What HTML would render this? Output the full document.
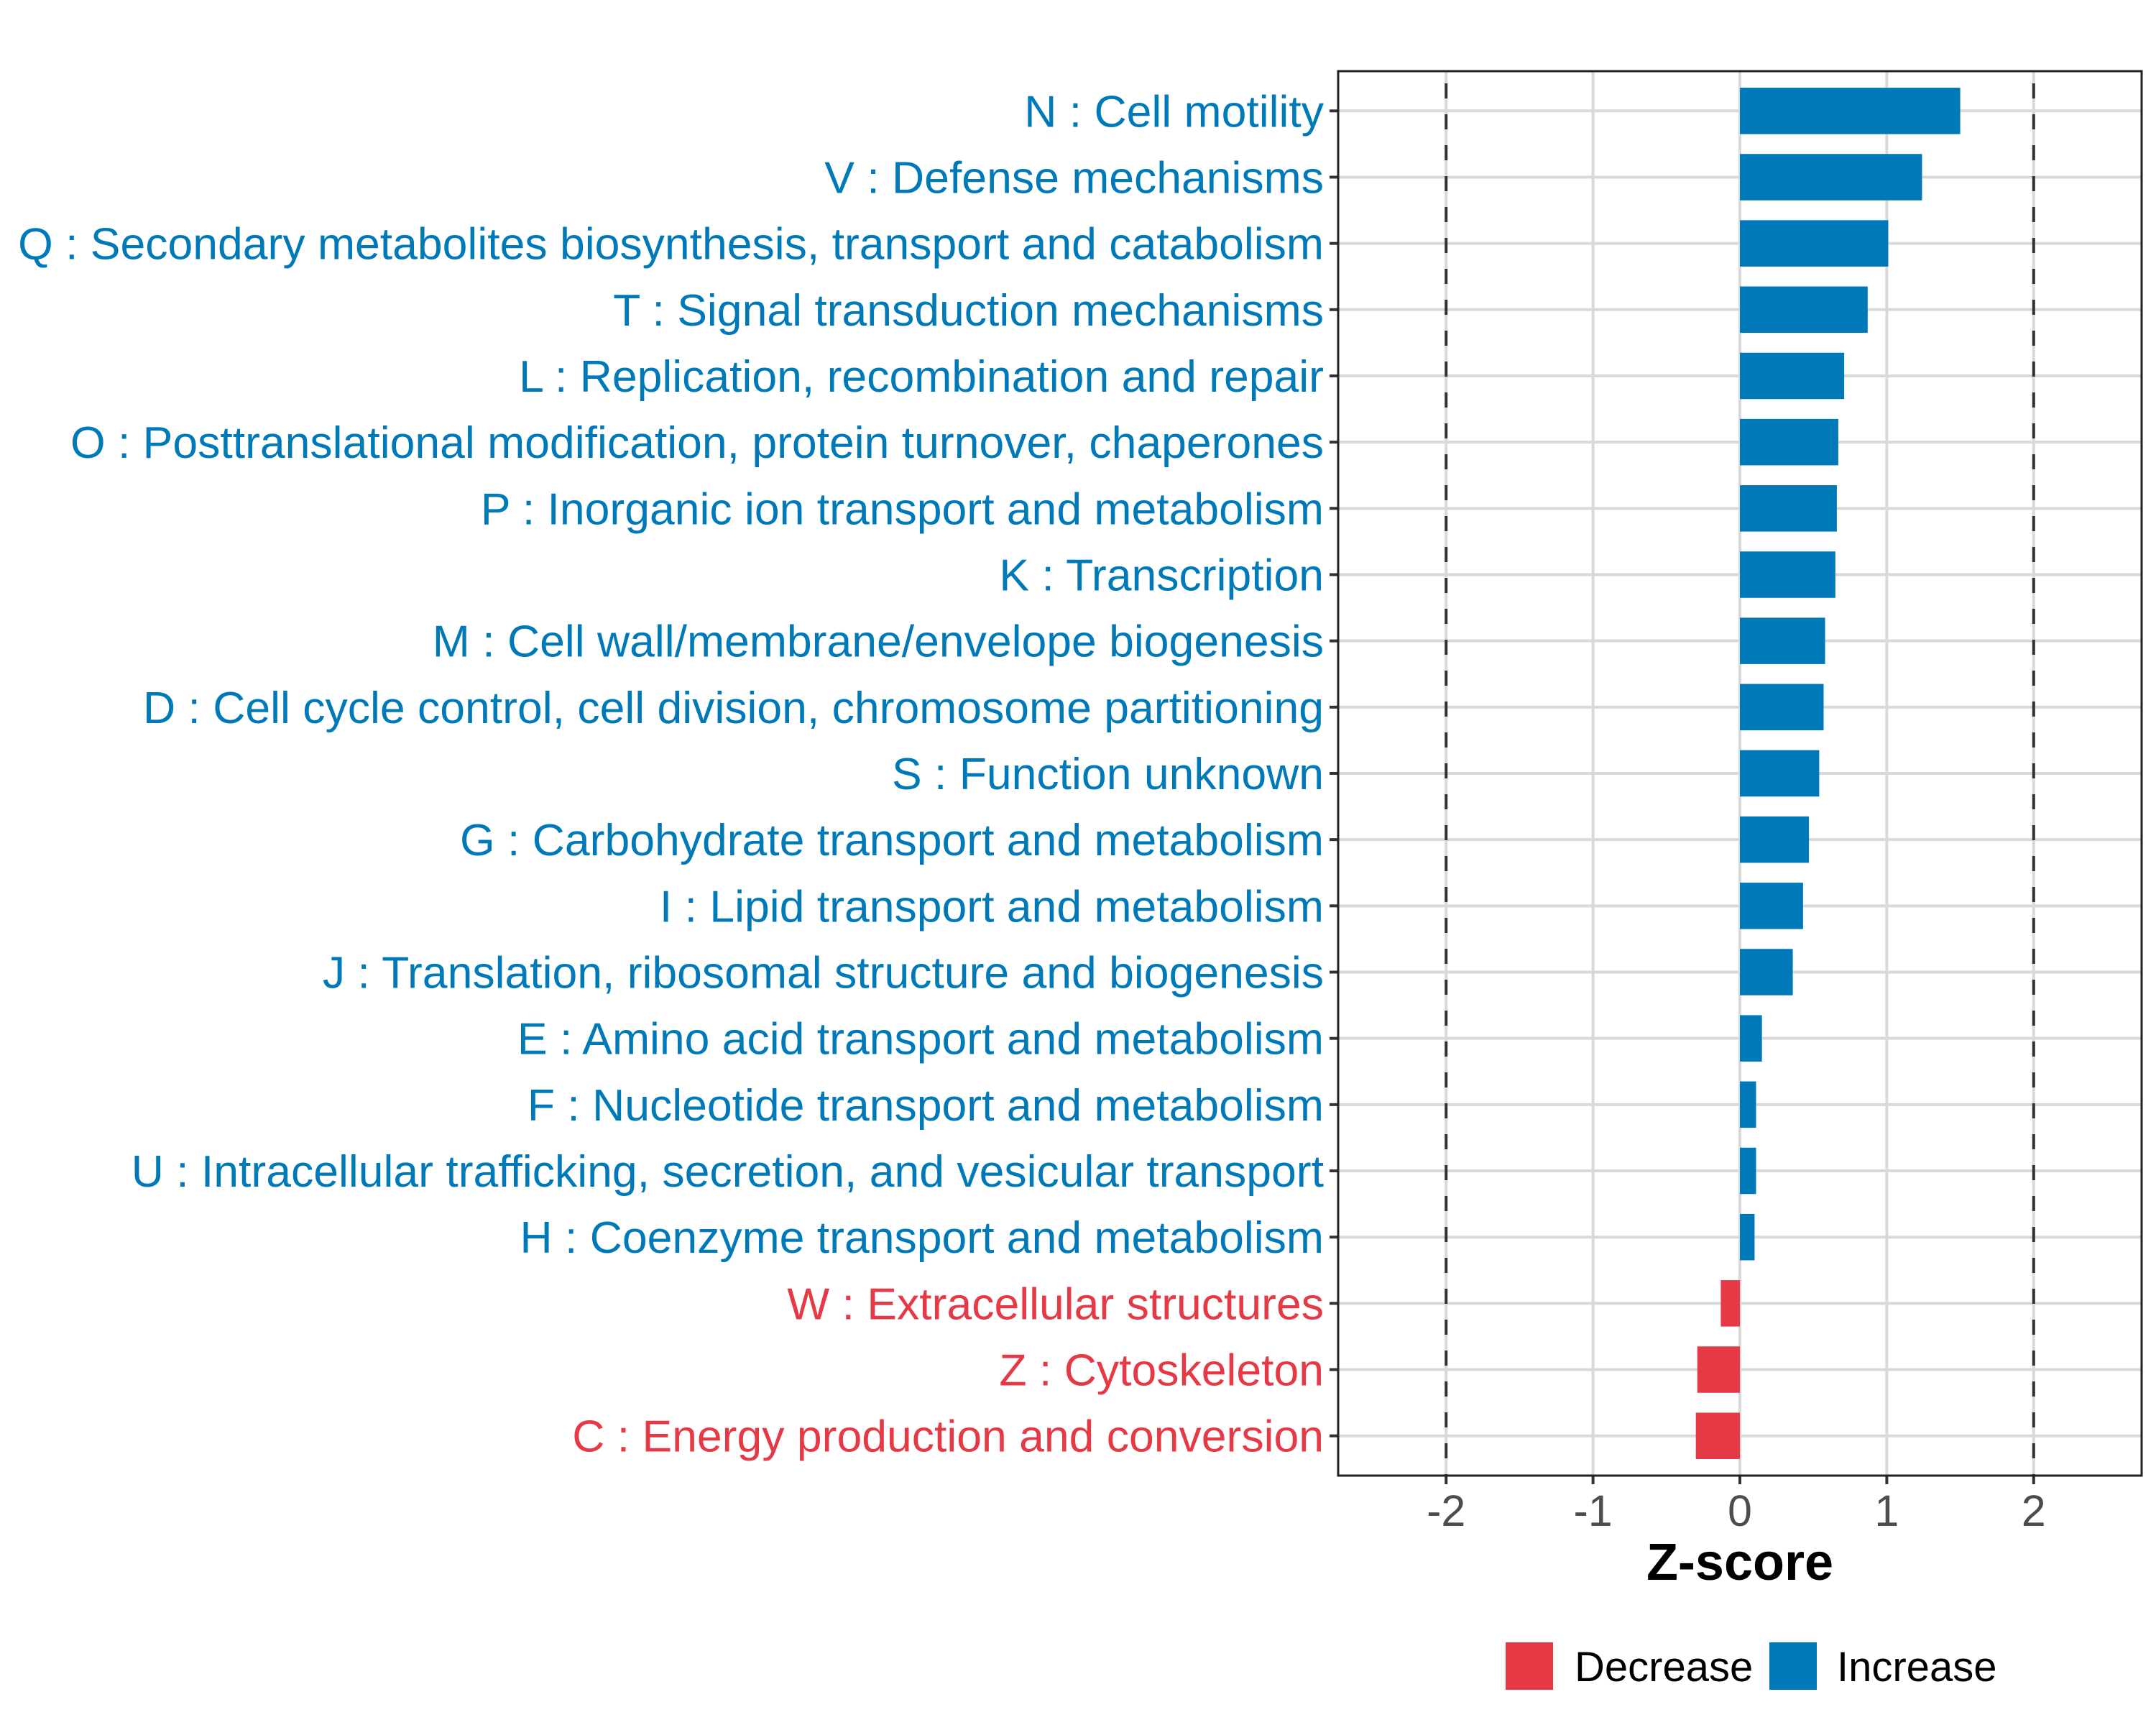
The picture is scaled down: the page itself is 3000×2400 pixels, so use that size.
<!DOCTYPE html>
<html><head><meta charset="utf-8"><style>
body{margin:0;background:#fff}
svg{display:block;font-family:"Liberation Sans",Arial,sans-serif}
</style></head><body>
<svg id="chart" width="3000" height="2400" viewBox="0 0 3000 2400" xmlns="http://www.w3.org/2000/svg">
<rect width="3000" height="2400" fill="#fff"/>
<g id="grid"></g><g id="bars"></g><g id="ylabels"></g><g id="xaxis"></g>
<rect x="1862" y="99" width="1118" height="1954" fill="none" stroke="#222" stroke-width="3"/>
<text x="2421" y="2198" font-size="72" font-weight="bold" text-anchor="middle" fill="#000">Z-score</text>
<g>
<rect x="2095" y="2285" width="66" height="66" fill="#E63946"/>
<text x="2191" y="2339" font-size="58" fill="#000">Decrease</text>
<rect x="2462" y="2285" width="66" height="66" fill="#0079B9"/>
<text x="2556" y="2339" font-size="58" fill="#000">Increase</text>
</g>
</svg>
<script>
const categories=["N : Cell motility","V : Defense mechanisms","Q : Secondary metabolites biosynthesis, transport and catabolism","T : Signal transduction mechanisms","L : Replication, recombination and repair","O : Posttranslational modification, protein turnover, chaperones","P : Inorganic ion transport and metabolism","K : Transcription","M : Cell wall/membrane/envelope biogenesis","D : Cell cycle control, cell division, chromosome partitioning","S : Function unknown","G : Carbohydrate transport and metabolism","I : Lipid transport and metabolism","J : Translation, ribosomal structure and biogenesis","E : Amino acid transport and metabolism","F : Nucleotide transport and metabolism","U : Intracellular trafficking, secretion, and vesicular transport","H : Coenzyme transport and metabolism","W : Extracellular structures","Z : Cytoskeleton","C : Energy production and conversion"];
const zscores=[1.50,1.24,1.01,0.87,0.71,0.67,0.66,0.65,0.58,0.57,0.54,0.47,0.43,0.36,0.15,0.11,0.11,0.10,-0.13,-0.29,-0.30];
const xTicks=[-2,-1,0,1,2];
const xTickLabels=["-2","-1","0","1","2"];
const thresholds=[-2,2];

const NS="http://www.w3.org/2000/svg";
const X0=1862,X1=2980,Y0=99,Y1=2053;
const xmin=-2.735,xmax=2.735;
function xs(v){return X0+(v-xmin)/(xmax-xmin)*(X1-X0);}
const n=categories.length;
const step=(Y1-Y0)/(n-1+1.2);
function ys(i){return Y0+step*(0.6+i);}
function mk(tag,attrs,parent){const e=document.createElementNS(NS,tag);for(const k in attrs)e.setAttribute(k,attrs[k]);parent.appendChild(e);return e;}
const grid=document.getElementById('grid'),bars=document.getElementById('bars'),yl=document.getElementById('ylabels'),xa=document.getElementById('xaxis');
xTicks.forEach(t=>{
 const l=mk('line',{x1:xs(t),x2:xs(t),y1:Y0,y2:Y1,stroke:'#d9d9d9','stroke-width':4},grid);
 
 
});
categories.forEach((c,i)=>{
 const l=mk('line',{x1:X0,x2:X1,y1:ys(i),y2:ys(i),stroke:'#d9d9d9','stroke-width':4},grid);
 
 
});
thresholds.forEach(t=>{
 const l=mk('line',{x1:xs(t),x2:xs(t),y1:Y0,y2:Y1,stroke:'#333','stroke-width':4,'stroke-dasharray':'21 22','stroke-dashoffset':'-17'},grid);
 
 
});
const bh=step*0.7;
categories.forEach((c,i)=>{
 const v=zscores[i];
 const col=v<0?'#E63946':'#0079B9';
 const x=Math.min(xs(0),xs(v)),w=Math.abs(xs(v)-xs(0));
 const r=mk('rect',{x:x,y:ys(i)-bh/2,width:w,height:bh,fill:col},bars);
 
 
 const tk=mk('line',{x1:X0-12,x2:X0,y1:ys(i),y2:ys(i),stroke:'#333','stroke-width':4},yl);
 
 
 const t=mk('text',{x:X0-20,y:ys(i)+22,'font-size':62.5,'text-anchor':'end',fill:col},yl);
 t.textContent=c;
 
 
});
xTicks.forEach((t,i)=>{
 const tk=mk('line',{x1:xs(t),x2:xs(t),y1:Y1,y2:Y1+12,stroke:'#333','stroke-width':4},xa);
 
 
 const tx=mk('text',{x:xs(t),y:Y1+70,'font-size':61,'text-anchor':'middle',fill:'#4d4d4d'},xa);
 tx.textContent=xTickLabels[i];
 
 
});
</script>
</body></html>
